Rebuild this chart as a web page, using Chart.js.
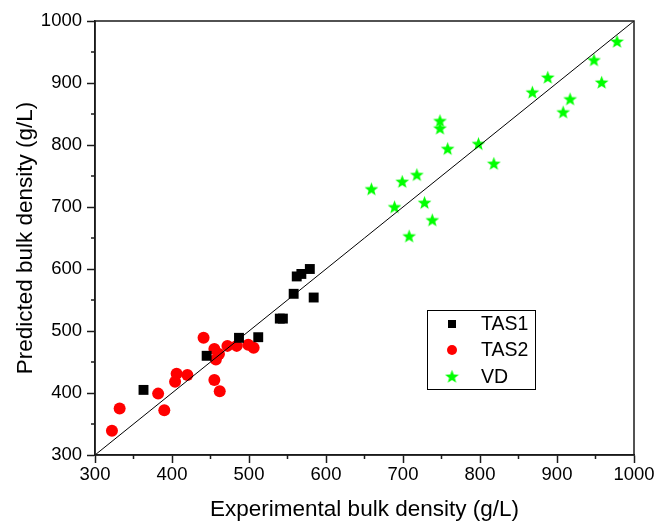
<!DOCTYPE html>
<html>
<head>
<meta charset="utf-8">
<script src="https://cdn.jsdelivr.net/npm/chart.js@4.4.1/dist/chart.umd.min.js"></script>
<style>
  html, body { margin: 0; padding: 0; background: #fff; }
  #wrap { width: 656px; height: 522px; }
</style>
</head>
<body>
<div id="wrap"><canvas id="chart" width="656" height="522"></canvas></div>
<script>
// data (experimental x, predicted y)
const tas1X = [363, 445, 487, 512, 540, 544, 558, 562, 568, 579, 584];
const tas1Y = [405, 460, 489, 490, 520, 520, 560, 588, 592, 600, 554];

const tas2X = [322, 332, 382, 390, 404, 406, 420, 441, 455, 461, 457, 455, 462, 472, 484, 499, 506];
const tas2Y = [339, 375, 399, 372, 418, 431, 429, 489, 471, 463, 454, 421, 403, 476, 476, 478, 473];

const vdX = [978, 948, 958, 888, 868, 917, 908, 748, 748, 758, 798, 818, 718, 699, 728, 738, 708, 659, 689];
const vdY = [967, 937, 901, 909, 885, 874, 853, 839, 827, 794, 802, 770, 752, 741, 707, 679, 653, 729, 700];

const diagX = [300, 1000];
const diagY = [300, 1000];

const axisMin = 300;
const axisMax = 1000;

function toPoints(xs, ys) {
    return xs.map((x, i) => ({ x: x, y: ys[i] }));
}

// filled five-point star for the VD series
function makeStar(color) {
    const c = document.createElement('canvas');
    c.width = 15; c.height = 15;
    const g = c.getContext('2d');
    const cx = 7.5, cy = 8, ro = 7.2, ri = 3;
    g.beginPath();
    for (let i = 0; i < 10; i++) {
        const r = i % 2 === 0 ? ro : ri;
        const a = -Math.PI / 2 + i * Math.PI / 5;
        const px = cx + r * Math.cos(a), py = cy + r * Math.sin(a);
        if (i === 0) g.moveTo(px, py); else g.lineTo(px, py);
    }
    g.closePath();
    g.fillStyle = color;
    g.fill();
    return c;
}
const starImg = makeStar('#00ff00');

const FONT = '"Liberation Sans", Arial, sans-serif';

const framePlugin = {
    id: 'frame',
    afterDraw(chart) {
        const ctx = chart.ctx;
        const a = chart.chartArea;
        const xs = chart.scales.x, ys = chart.scales.y;
        ctx.save();
        ctx.strokeStyle = '#1a1a1a';
        ctx.lineWidth = 1.5;
        ctx.strokeRect(a.left, a.top, a.right - a.left, a.bottom - a.top);
        // minor ticks
        ctx.beginPath();
        for (let v = axisMin + 50; v < axisMax; v += 100) {
            const px = xs.getPixelForValue(v);
            ctx.moveTo(px, a.bottom);
            ctx.lineTo(px, a.bottom + 4);
            const py = ys.getPixelForValue(v);
            ctx.moveTo(a.left, py);
            ctx.lineTo(a.left - 4, py);
        }
        ctx.stroke();

        // legend box
        const lx = 427, ly = 310, lw = 108, lh = 79;
        ctx.lineWidth = 1;
        ctx.strokeStyle = '#000';
        ctx.strokeRect(lx + 0.5, ly + 0.5, lw, lh);
        const entries = [
            { label: 'TAS1', y: 324, kind: 'rect' },
            { label: 'TAS2', y: 350, kind: 'circle' },
            { label: 'VD', y: 377, kind: 'star' }
        ];
        ctx.font = '19.5px ' + FONT;
        ctx.textBaseline = 'middle';
        ctx.fillStyle = '#000';
        entries.forEach(e => {
            const mx = 452;
            if (e.kind === 'rect') {
                ctx.fillStyle = '#000';
                ctx.fillRect(mx - 4, e.y - 4, 8, 8);
            } else if (e.kind === 'circle') {
                ctx.fillStyle = '#ff0000';
                ctx.beginPath();
                ctx.arc(mx, e.y, 5, 0, Math.PI * 2);
                ctx.fill();
            } else {
                ctx.drawImage(starImg, mx - 7.5, e.y - 8);
            }
            ctx.fillStyle = '#000';
            ctx.fillText(e.label, 481, e.y + 1);
        });
        ctx.restore();
    }
};

const ctx = document.getElementById('chart').getContext('2d');
new Chart(ctx, {
    type: 'scatter',
    data: {
        datasets: [
            {
                label: 'TAS1',
                data: toPoints(tas1X, tas1Y),
                pointStyle: 'rect',
                pointRadius: 7,
                backgroundColor: '#000',
                borderColor: '#000',
                borderWidth: 0,
                order: 2
            },
            {
                label: 'TAS2',
                data: toPoints(tas2X, tas2Y),
                pointStyle: 'circle',
                pointRadius: 6,
                backgroundColor: '#ff0000',
                borderColor: '#ff0000',
                borderWidth: 0,
                order: 2
            },
            {
                label: 'VD',
                data: toPoints(vdX, vdY),
                pointStyle: starImg,
                pointRadius: 7,
                order: 2
            },
            {
                type: 'line',
                label: 'y = x',
                data: toPoints(diagX, diagY),
                borderColor: '#000',
                borderWidth: 1,
                pointRadius: 0,
                fill: false,
                order: 1
            }
        ]
    },
    options: {
        responsive: false,
        animation: false,
        layout: { padding: { top: 21, right: 22, left: 0, bottom: 0 } },
        plugins: {
            legend: { display: false },
            tooltip: { enabled: false }
        },
        scales: {
            x: {
                type: 'linear',
                min: axisMin,
                max: axisMax,
                ticks: {
                    stepSize: 100,
                    color: '#000',
                    padding: 1,
                    maxRotation: 0,
                    font: { family: FONT, size: 18.5 },
                    callback: v => String(v)
                },
                grid: { drawOnChartArea: false, drawTicks: true, tickLength: 8, color: '#1a1a1a', tickWidth: 1.5 },
                border: { display: true, color: '#1a1a1a', width: 1.5 },
                title: {
                    display: true,
                    text: 'Experimental bulk density (g/L)',
                    color: '#000',
                    font: { family: FONT, size: 22.5 },
                    padding: { top: 0, bottom: -1 }
                },
                afterFit(scale) { scale.height = 67; }
            },
            y: {
                type: 'linear',
                min: axisMin,
                max: axisMax,
                ticks: {
                    stepSize: 100,
                    color: '#000',
                    padding: 5,
                    font: { family: FONT, size: 18.5 },
                    callback: v => String(v)
                },
                grid: { drawOnChartArea: false, drawTicks: true, tickLength: 8, color: '#1a1a1a', tickWidth: 1.5 },
                border: { display: true, color: '#1a1a1a', width: 1.5 },
                title: {
                    display: true,
                    text: 'Predicted bulk density (g/L)',
                    color: '#000',
                    font: { family: FONT, size: 22.5 },
                    padding: { top: 12, bottom: 0 }
                },
                afterFit(scale) { scale.width = 95; }
            }
        }
    },
    plugins: [framePlugin]
});
</script>
</body>
</html>
